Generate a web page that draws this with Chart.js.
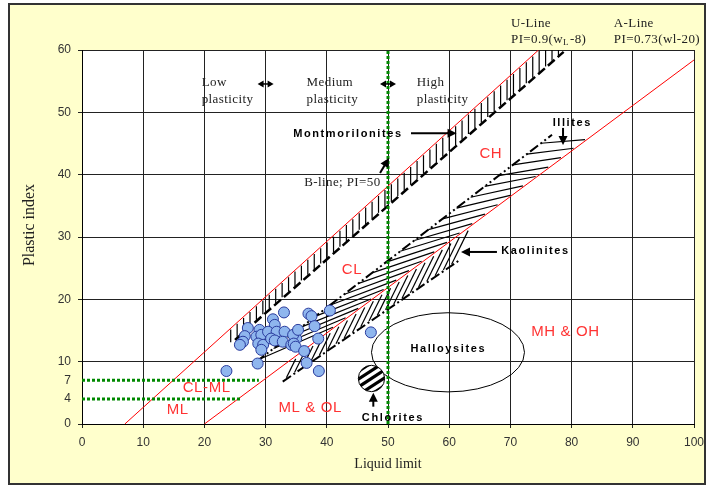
<!DOCTYPE html>
<html>
<head>
<meta charset="utf-8">
<script src="https://cdn.jsdelivr.net/npm/chart.js@4.4.1/dist/chart.umd.min.js"></script>
<style>
  html, body { margin: 0; padding: 0; background: #fff; }
  #wrap { width: 706px; height: 486px; }
</style>
</head>
<body>
<div id="wrap"><canvas id="chart" width="706" height="486"></canvas></div>
<script>
// tick labels
const xTicks = [0, 10, 20, 30, 40, 50, 60, 70, 80, 90, 100];
const yTicks = [0, 4, 7, 10, 20, 30, 40, 50, 60];
const yGrid = [0, 10, 20, 30, 40, 50, 60];

// samples: [liquid limit, plastic index]
const samples = [
  [33.0, 17.9], [31.2, 16.8], [31.5, 15.9], [27.1, 15.4], [26.6, 14.1], [26.3, 13.2],
  [25.8, 12.7], [29.0, 15.1], [28.5, 14.0], [29.3, 14.3], [30.4, 14.8], [31.8, 14.8],
  [33.1, 14.8], [28.8, 12.9], [29.6, 12.7], [29.3, 11.9], [30.9, 13.7], [31.5, 13.4],
  [32.8, 13.2], [34.2, 12.7], [35.0, 13.7], [34.5, 14.3], [40.5, 18.2], [37.0, 17.7],
  [37.5, 17.3], [38.0, 15.7], [35.3, 15.1], [34.6, 12.9], [34.9, 12.4], [38.6, 13.7],
  [36.3, 11.7], [36.7, 9.8], [38.7, 8.5], [47.2, 14.7], [23.6, 8.5], [28.7, 9.7]
];

// reference lines
const uLine = [[7, 0], [74.6, 60]];
const aLine = [[20, 0], [100, 58.4]];
const bLine = [[50, 0], [50, 60]];
const clml7 = [[0, 7], [28.9, 7]];
const clml4 = [[0, 4], [26.1, 4]];

// clay mineral zones
const montLower = [[25, 13.5], [78.7, 59.7]];
const illiteUpper = [[28.5, 10], [76.8, 46.4]];
const illiteEnd = 82.2;
const kaolLower = [[32.8, 6.8], [61.7, 26.3]];
const kaolUpper = [[32.8, 8.9], [61.7, 30.0]];
const halloysite = { x: 59.8, y: 11.5, rx: 12.5, ry: 6.35 };
const chlorite = { x: 47.3, y: 7.3, r: 2.15 };

const serifLabels = [
  ['Low', 19.56, 54.75], ['plasticity', 19.56, 52.0],
  ['Medium', 36.7, 54.75], ['plasticity', 36.7, 52.0],
  ['High', 54.7, 54.75], ['plasticity', 54.7, 52.0],
  ['B-line; PI=50', 36.3, 38.7],
  ['U-Line', 70.1, 64.3], ['A-Line', 86.9, 64.3], ['PI=0.73(wl-20)', 86.9, 61.6]
];
const boldLabels = [
  ['Montmorilonites', 34.5, 46.6, 'left'], ['Illites', 76.9, 48.3, 'left'],
  ['Kaolinites', 68.5, 27.75, 'left'], ['Halloysites', 59.85, 12.0, 'center'],
  ['Chlorites', 50.8, 1.0, 'center']
];
const redLabels = [
  ['CH', 66.8, 43.3, 'center'], ['CL', 44.1, 24.7, 'center'],
  ['CL-ML', 16.45, 5.8, 'left'], ['ML', 13.84, 2.25, 'left'],
  ['ML & OL', 32.1, 2.6, 'left'], ['MH & OH', 73.4, 14.8, 'left']
];
const arrows = [
  [53.76, 46.65, 61.2, 46.65], [48.7, 40.27, 50.16, 42.68],
  [78.6, 47.5, 78.6, 44.76], [67.8, 27.6, 61.93, 27.6], [47.6, 2.78, 47.6, 5.02]
];
const doubleArrows = [[30, 54.55], [50, 54.55]];

const toXY = arr => arr.map(([x, y]) => ({ x, y }));
const yAt = (line, x) => {
  const [[x0, y0], [x1, y1]] = line;
  return y0 + (y1 - y0) * (x - x0) / (x1 - x0);
};

function lineSet(label, pts, color, width, dash) {
  return {
    label, data: toXY(pts), showLine: true, pointRadius: 0,
    borderColor: color, borderWidth: width, borderDash: dash || [], fill: false
  };
}

function arrowHead(ctx, x0, y0, x1, y1, h, w) {
  const a = Math.atan2(y1 - y0, x1 - x0);
  ctx.beginPath();
  ctx.moveTo(x1, y1);
  ctx.lineTo(x1 - h * Math.cos(a) + w * Math.sin(a), y1 - h * Math.sin(a) - w * Math.cos(a));
  ctx.lineTo(x1 - h * Math.cos(a) - w * Math.sin(a), y1 - h * Math.sin(a) + w * Math.cos(a));
  ctx.closePath();
  ctx.fill();
}

const frame = {
  id: 'frame',
  beforeDraw(chart) {
    const { ctx, chartArea: a } = chart;
    ctx.save();
    ctx.fillStyle = '#fff';
    ctx.fillRect(0, 0, chart.width, chart.height);
    ctx.fillStyle = '#FFFFCC';
    ctx.fillRect(9, 4, 696, 480);
    ctx.strokeStyle = '#333';
    ctx.lineWidth = 2;
    ctx.strokeRect(9, 4, 696, 480);
    ctx.fillStyle = '#fff';
    ctx.fillRect(a.left, a.top, a.right - a.left, a.bottom - a.top);
    ctx.restore();
  }
};

const zones = {
  id: 'zones',
  beforeDatasetsDraw(chart) {
    const { ctx, chartArea: a, scales: { x: sx, y: sy } } = chart;
    const seg = (x0, y0, x1, y1) => {
      ctx.beginPath();
      ctx.moveTo(sx.getPixelForValue(x0), sy.getPixelForValue(y0));
      ctx.lineTo(sx.getPixelForValue(x1), sy.getPixelForValue(y1));
      ctx.stroke();
    };
    ctx.save();
    ctx.beginPath();
    ctx.rect(a.left, a.top, a.right - a.left, a.bottom - a.top);
    ctx.clip();
    ctx.strokeStyle = '#000';
    ctx.lineWidth = 1.2;

    // montmorillonite: vertical hatching under the U-line
    for (let x = 24.3; x <= 78.5; x += 1.05) {
      const top = Math.min(yAt(uLine, x) - 0.2, 60);
      const bot = yAt(montLower, x) + 0.2;
      if (top - bot > 0.3) seg(x, top, x, bot);
    }

    // illites: long oblique hatching down to the A-line
    for (let xu = 29; xu <= 76.6; xu += 2.3) {
      const yu = yAt(illiteUpper, xu);
      let xl = Math.min(xu + 12 - (xu - 29) * 0.1, illiteEnd);
      seg(xu, yu, xl, yAt(aLine, xl) + 0.2);
    }

    // kaolinites: steep hatching below the A-line
    const b = (kaolUpper[1][1] - kaolUpper[0][1]) / (kaolUpper[1][0] - kaolUpper[0][0]);
    const c = kaolUpper[0][1] - b * kaolUpper[0][0];
    for (let xl = 33.4; xl <= 61.5; xl += 1.35) {
      const yl = yAt(kaolLower, xl) + 0.2;
      const xi = (c - yl + 2 * xl) / (2 - b);
      seg(xl, yl, xi, c + b * xi);
    }

    // halloysites ellipse
    const hx = sx.getPixelForValue(halloysite.x), hy = sy.getPixelForValue(halloysite.y);
    const hrx = sx.getPixelForValue(halloysite.x + halloysite.rx) - hx;
    const hry = hy - sy.getPixelForValue(halloysite.y + halloysite.ry);
    ctx.lineWidth = 1;
    ctx.beginPath();
    ctx.ellipse(hx, hy, hrx, hry, 0, 0, Math.PI * 2);
    ctx.stroke();

    // chlorites: striped disc
    const cx = sx.getPixelForValue(chlorite.x), cy = sy.getPixelForValue(chlorite.y);
    const r = sx.getPixelForValue(chlorite.x + chlorite.r) - cx;
    ctx.save();
    ctx.beginPath();
    ctx.arc(cx, cy, r, 0, Math.PI * 2);
    ctx.fillStyle = '#fff';
    ctx.fill();
    ctx.clip();
    ctx.lineWidth = 3.2;
    const ang = -33 * Math.PI / 180;
    const dx = Math.cos(ang), dy = Math.sin(ang), nx = -dy, ny = dx;
    for (let k = -3; k <= 3; k++) {
      const px = cx + nx * k * 6.6, py = cy + ny * k * 6.6;
      ctx.beginPath();
      ctx.moveTo(px - dx * 20, py - dy * 20);
      ctx.lineTo(px + dx * 20, py + dy * 20);
      ctx.stroke();
    }
    ctx.restore();
    ctx.lineWidth = 1;
    ctx.beginPath();
    ctx.arc(cx, cy, r, 0, Math.PI * 2);
    ctx.stroke();
    ctx.restore();
  }
};

const notes = {
  id: 'notes',
  afterDraw(chart) {
    const { ctx, scales: { x: sx, y: sy } } = chart;
    const X = v => sx.getPixelForValue(v), Y = v => sy.getPixelForValue(v);
    ctx.save();
    ctx.textBaseline = 'middle';

    ctx.fillStyle = '#222';
    ctx.font = "13px 'Liberation Serif', 'Times New Roman', serif";
    ctx.letterSpacing = '0.4px';
    ctx.textAlign = 'left';
    serifLabels.forEach(([t, x, y]) => ctx.fillText(t, X(x), Y(y)));
    // U-line formula with subscript
    let px = X(70.1);
    const py = Y(61.6);
    ctx.fillText('PI=0.9(w', px, py);
    px += ctx.measureText('PI=0.9(w').width;
    ctx.font = "9px 'Liberation Serif', serif";
    ctx.fillText('L', px, py + 3);
    px += ctx.measureText('L').width + 1;
    ctx.font = "13px 'Liberation Serif', 'Times New Roman', serif";
    ctx.fillText('-8)', px, py);

    ctx.fillStyle = '#000';
    ctx.font = "bold 11px 'Liberation Sans', Arial, sans-serif";
    ctx.letterSpacing = '1.6px';
    boldLabels.forEach(([t, x, y, al]) => { ctx.textAlign = al; ctx.fillText(t, X(x), Y(y)); });

    ctx.fillStyle = '#FF3333';
    ctx.font = "15px 'Liberation Sans', Arial, sans-serif";
    ctx.letterSpacing = '0.6px';
    redLabels.forEach(([t, x, y, al]) => { ctx.textAlign = al; ctx.fillText(t, X(x), Y(y)); });

    ctx.strokeStyle = '#000';
    ctx.fillStyle = '#000';
    ctx.lineWidth = 2;
    arrows.forEach(([x0, y0, x1, y1]) => {
      const a = Math.atan2(Y(y1) - Y(y0), X(x1) - X(x0));
      ctx.beginPath();
      ctx.moveTo(X(x0), Y(y0));
      ctx.lineTo(X(x1) - 6 * Math.cos(a), Y(y1) - 6 * Math.sin(a));
      ctx.stroke();
      arrowHead(ctx, X(x0), Y(y0), X(x1), Y(y1), 9, 4.5);
    });
    doubleArrows.forEach(([x, y]) => {
      const cx = X(x), cy = Y(y);
      arrowHead(ctx, cx, cy, cx - 8, cy, 6, 3.5);
      arrowHead(ctx, cx, cy, cx + 8, cy, 6, 3.5);
      ctx.lineWidth = 1.5;
      ctx.beginPath(); ctx.moveTo(cx - 3, cy); ctx.lineTo(cx + 3, cy); ctx.stroke();
    });
    ctx.restore();
  }
};

new Chart(document.getElementById('chart'), {
  type: 'scatter',
  data: {
    datasets: [
      {
        label: 'Samples', data: toXY(samples), pointRadius: 5.5,
        backgroundColor: '#8FB6EE', borderColor: '#2A3C9E', borderWidth: 1
      },
      lineSet('B-line', bLine, '#008800', 3, [3, 2]),
      lineSet('PI=7', clml7, '#008800', 3, [3, 2]),
      lineSet('PI=4', clml4, '#008800', 3, [3, 2]),
      lineSet('Montmorilonites', montLower, '#000', 2.5, [9, 4]),
      lineSet('Illites', illiteUpper, '#000', 2, [10, 3, 2, 3, 2, 3]),
      lineSet('Kaolinites', kaolLower, '#000', 2, [10, 3, 2, 3]),
      lineSet('U-Line', uLine, '#FF0000', 1),
      lineSet('A-Line', aLine, '#FF0000', 1)
    ]
  },
  options: {
    responsive: false,
    animation: false,
    layout: { padding: { top: 50, right: 12, left: 0, bottom: 0 } },
    plugins: { legend: { display: false }, tooltip: { enabled: false } },
    scales: {
      x: {
        type: 'linear', min: 0, max: 100,
        afterBuildTicks: s => { s.ticks = xTicks.map(v => ({ value: v })); },
        afterFit: s => { s.height = 62; s.paddingLeft = 0; s.paddingRight = 0; },
        ticks: { color: '#333', padding: 7, font: { family: "'Liberation Sans', Arial, sans-serif", size: 12 } },
        grid: { color: '#222', lineWidth: 1, tickLength: 4 },
        border: { color: '#000', width: 1 },
        title: {
          display: true, text: 'Liquid limit', color: '#222',
          font: { family: "'Liberation Serif', 'Times New Roman', serif", size: 14 },
          padding: { top: 0, bottom: 13.6 }
        }
      },
      y: {
        type: 'linear', min: 0, max: 60,
        afterBuildTicks: s => { s.ticks = yTicks.map(v => ({ value: v })); },
        afterFit: s => { s.width = 82; s.paddingTop = 0; s.paddingBottom = 0; },
        ticks: { color: '#333', padding: 7, font: { family: "'Liberation Sans', Arial, sans-serif", size: 12 } },
        grid: {
          color: c => (c.tick && yGrid.includes(c.tick.value)) ? '#222' : 'rgba(0,0,0,0)',
          lineWidth: 1, tickLength: 4
        },
        border: { color: '#000', width: 1 },
        title: {
          display: true, text: '      Plastic index', color: '#222',
          font: { family: "'Liberation Serif', 'Times New Roman', serif", size: 16 },
          padding: { top: 20.4, bottom: 0 }
        }
      }
    }
  },
  plugins: [frame, zones, notes]
});
</script>
</body>
</html>
